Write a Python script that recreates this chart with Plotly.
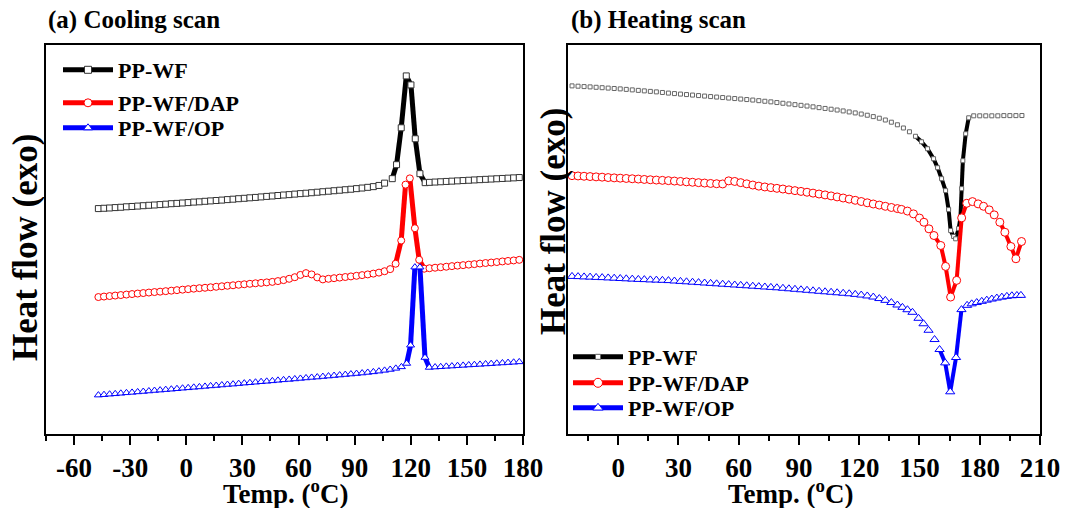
import plotly.graph_objects as go

# ---------------- (a) Cooling scan ----------------
cool_wf_T = [-47, -44, -41, -38, -35, -32, -29, -26, -23, -20, -17, -14, -11, -8, -5, -2, 1, 4, 7, 10,
             13, 16, 19, 22, 25, 28, 31, 34, 37, 40, 43, 46, 49, 52, 55, 58, 61, 64, 67, 70,
             73, 76, 79, 82, 85, 88, 91, 94, 97, 100, 103, 106,
             110.1, 112.4, 114.9, 117.6, 120.1, 122.4, 124.9, 127.7,
             130, 133, 136, 139, 142, 145, 148, 151, 154, 157, 160, 163, 166, 169, 172, 175, 178]
cool_wf_H = [225, 225.3, 225.6, 226, 226.3, 226.8, 227.1, 227.5, 227.9, 228.3, 228.6, 229, 229.4, 229.9, 230.2, 230.6, 231, 231.5, 231.8, 232.3,
             232.7, 233.1, 233.5, 234, 234.4, 234.9, 235.3, 235.8, 236.2, 236.7, 237.2, 237.6, 238.1, 238.6, 239, 239.5, 240, 240.4, 240.9, 241.4,
             241.9, 242.4, 242.9, 243.4, 243.9, 244.4, 245, 245.6, 246.3, 247, 248.2, 250.5,
             255, 269, 306, 358, 349, 295, 260, 251,
             251.3, 251.6, 251.9, 252.2, 252.5, 252.8, 253.1, 253.4, 253.7, 254, 254.3, 254.6, 254.9, 255.2, 255.5, 255.8, 256.1]

cool_dap_T = [-47, -44, -41, -38, -35, -32, -29, -26, -23, -20, -17, -14, -11, -8, -5, -2, 1, 4, 7, 10,
              13, 16, 19, 22, 25, 28, 31, 34, 37, 40, 43, 46, 49, 52, 55, 58, 61, 64, 67, 70,
              73, 76, 79, 82, 85, 88, 91, 94, 97, 100, 103, 106, 109,
              111.9, 114.9, 117.2, 119.5, 122.2, 124.5, 127.2,
              130, 133, 136, 139, 142, 145, 148, 151, 154, 157, 160, 163, 166, 169, 172, 175, 178]
cool_dap_H = [136.3, 136.8, 137.3, 137.8, 138.3, 138.8, 139.3, 139.8, 140.3, 140.8, 141.3, 141.7, 142.2, 142.7, 143.2, 143.7, 144.2, 144.7, 145.2, 145.6,
              146.1, 146.6, 147.1, 147.6, 148.1, 148.6, 149.1, 149.6, 150.1, 150.5, 151, 151.5, 152.3, 153.3, 154.6, 156.2, 158.5, 160.3, 159, 156,
              154, 154.6, 155.2, 155.8, 156.4, 157, 157.6, 158.3, 159, 159.8, 160.8, 162.2, 164.3,
              169.7, 193, 249, 255.3, 205.3, 173.7, 164.7,
              165.2, 165.7, 166.2, 166.7, 167.3, 167.8, 168.3, 168.8, 169.3, 169.9, 170.4, 170.9, 171.4, 172, 172.5, 173, 173.6]

cool_op_T = [-47, -44, -41, -38, -35, -32, -29, -26, -23, -20, -17, -14, -11, -8, -5, -2, 1, 4, 7, 10,
             13, 16, 19, 22, 25, 28, 31, 34, 37, 40, 43, 46, 49, 52, 55, 58, 61, 64, 67, 70,
             73, 76, 79, 82, 85, 88, 91, 94, 97, 100, 103, 106, 109, 112, 115,
             117.8, 119.9, 122.2, 124.9, 127.6, 129.9,
             133, 136, 139, 142, 145, 148, 151, 154, 157, 160, 163, 166, 169, 172, 175, 178]
cool_op_H = [38, 38.4, 38.9, 39.3, 39.8, 40.3, 40.7, 41.2, 41.6, 42.1, 42.6, 43, 43.5, 43.9, 44.4, 44.9, 45.3, 45.8, 46.2, 46.7,
             47.2, 47.6, 48.1, 48.6, 49, 49.5, 50, 50.4, 50.9, 51.4, 51.8, 52.3, 52.8, 53.3, 53.7, 54.2, 54.7, 55.2, 55.7, 56.1,
             56.6, 57.1, 57.6, 58.1, 58.6, 59.1, 59.6, 60.1, 60.7, 61.3, 62, 62.8, 63.7, 64.8, 66.3,
             69.7, 88, 166.3, 166.3, 75.7, 65.7,
             66.1, 66.4, 66.8, 67.1, 67.5, 67.8, 68.2, 68.5, 68.8, 69.2, 69.5, 69.9, 70.2, 70.6, 70.9, 71.3]

# ---------------- (b) Heating scan ----------------
heat_wf_T = [-23, -20, -17, -14, -11, -8, -5, -2, 1, 4, 7, 10, 13, 16, 19, 22, 25, 28, 31, 34,
             37, 40, 43, 46, 49, 52, 55, 58, 61, 64, 67, 70, 73, 76, 79, 82, 85, 88, 91, 94,
             97, 100, 103, 106, 109, 112, 115, 118, 121, 124, 127, 130, 133, 136, 139, 142, 145, 148, 151, 154,
             157, 159, 161, 163, 164.5, 165.5, 167, 168, 169.5, 170.4, 171, 171.6, 173, 174.5,
             177, 180, 183, 186, 189, 192, 195, 198, 201]
heat_wf_H = [348, 347.7, 347.3, 347, 346.6, 346.2, 345.8, 345.4, 345, 344.5, 344, 343.5, 343, 342.5, 342, 341.4, 340.8, 340.3, 339.8, 339.3,
             338.8, 338.3, 337.8, 337.3, 336.8, 336.3, 335.8, 335.3, 334.8, 334.3, 333.8, 333.2, 332.6, 332, 331.3, 330.6, 329.9, 329.2, 328.5, 327.8,
             327, 326.2, 325.4, 324.6, 323.8, 322.9, 321.9, 320.9, 319.8, 318.6, 317.2, 315.6, 313.8, 311.6, 309, 305.8, 302, 297.5, 292, 285,
             275, 266, 255, 243, 224, 203, 197, 194.7, 205, 216, 245, 273, 300, 316,
             318, 318, 318, 318, 318, 318.2, 318.2, 318.2, 318.3]

heat_dap_T = [-23, -20, -17, -14, -11, -8, -5, -2, 1, 4, 7, 10, 13, 16, 19, 22, 25, 28, 31, 34,
              37, 40, 43, 46, 49, 52, 55, 58, 61, 64, 67, 70, 73, 76, 79, 82, 85, 88, 91, 94,
              97, 100, 103, 106, 109, 112, 115, 118, 121, 124, 127, 130, 133, 136, 139, 141, 144, 147, 150,
              152.2, 154.7, 157.2, 160.6, 163, 165.5, 168.5, 171, 173.5, 176.4, 179.2, 181.9, 184.7, 187.2, 190,
              192.5, 195.5, 198, 200.8]
heat_dap_H = [258, 257.7, 257.4, 257.1, 256.8, 256.5, 256.1, 255.8, 255.5, 255.2, 254.9, 254.6, 254.2, 253.9, 253.6, 253.3, 253, 252.6, 252.2, 251.8,
              251.4, 251, 250.6, 250.2, 249.9, 249.7, 252.8, 252.2, 251, 249.8, 248.6, 247.5, 246.7, 246, 245.3, 244.6, 243.8, 243, 242.2, 241.4,
              240.5, 239.6, 238.7, 237.7, 236.7, 235.6, 234.5, 233.3, 232.1, 230.8, 229.6, 228.5, 227.3, 226.1, 225, 224.2, 222.5, 219.7, 215.5,
              211.3, 204.7, 198, 188, 167, 136.3, 153, 215.7, 230.3, 232, 229.7, 227.3, 223.7, 218.7, 211.3,
              201.3, 187, 174.7, 192]

heat_op_T = [-23, -20, -17, -14, -11, -8, -5, -2, 1, 4, 7, 10, 13, 16, 19, 22, 25, 28, 31, 34,
             37, 40, 43, 46, 49, 52, 55, 58, 61, 64, 67, 70, 73, 76, 79, 82, 85, 88, 91, 94,
             97, 100, 103, 106, 109, 112, 115, 118, 121, 124, 127, 130, 133, 136, 139, 141.5, 144, 146.5, 149.5, 152,
             154.5, 157.5, 160, 162.8, 165.3, 168.2, 170.9, 173.7, 176, 178.5, 181, 183.5, 186, 188.5, 191,
             193.5, 196, 198.5, 200.5]
heat_op_H = [157, 156.8, 156.5, 156.3, 156, 155.8, 155.5, 155.2, 154.9, 154.6, 154.3, 154, 153.8, 153.5, 153.3, 153.1, 152.8, 152.4, 152, 151.6,
             151.2, 150.8, 150.4, 150, 149.6, 149.2, 148.8, 148.4, 148, 147.6, 147.2, 146.8, 146.4, 146, 145.6, 145.1, 144.6, 144.1, 143.6, 143.1,
             142.6, 142.1, 141.6, 141.1, 140.6, 140.1, 139.6, 139, 138.3, 137.4, 136.3, 134.8, 133, 130.8, 128.3, 126, 123.6, 121, 115, 109.5,
             103, 93.7, 83.7, 70.3, 41.3, 75.7, 123.7, 128, 129.5, 130.8, 132, 133.2, 134.3, 135.3, 136.2,
             137, 137.6, 137.9, 138]

names = ["PP-WF", "PP-WF/DAP", "PP-WF/OP"]

cool_ticks = [-60, -30, 0, 30, 60, 90, 120, 150, 180]
heat_ticks = [0, 30, 60, 90, 120, 150, 180, 210]

FONT = "Liberation Serif"


def segments(xs, ys, thr):
    sx, sy = [], []
    for i in range(len(xs) - 1):
        if abs(ys[i + 1] - ys[i]) > thr:
            sx += [xs[i], xs[i + 1], None]
            sy += [ys[i], ys[i + 1], None]
    return sx, sy


fig = go.Figure()

series = [
    # panel, T, H, name, color, outline, symbol, msize, lwidth, thr, legend
    ("1", cool_wf_T, cool_wf_H, names[0], "black", "#333333", "square", 6, 5, 8, "legend"),
    ("1", cool_dap_T, cool_dap_H, names[1], "red", "red", "circle", 7, 5, 8, "legend2"),
    ("1", cool_op_T, cool_op_H, names[2], "blue", "blue", "triangle-up", 7, 5, 8, "legend3"),
    ("2", heat_wf_T, heat_wf_H, names[0], "black", "#666666", "square", 4, 4, 5, "legend4"),
    ("2", heat_dap_T, heat_dap_H, names[1], "red", "red", "circle", 8, 4, 8, "legend5"),
    ("2", heat_op_T, heat_op_H, names[2], "blue", "blue", "triangle-up", 8, 4, 10, "legend6"),
]

for panel, T, H, name, col, ocol, sym, ms, lw, thr, lg in series:
    xa = "x" if panel == "1" else "x2"
    ya = "y" if panel == "1" else "y2"
    sx, sy = segments(T, H, thr)
    fig.add_trace(go.Scatter(x=sx, y=sy, mode="lines", line=dict(color=col, width=lw),
                             xaxis=xa, yaxis=ya, showlegend=False, hoverinfo="skip"))
    fig.add_trace(go.Scatter(x=T, y=H, mode="markers", name=name,
                             marker=dict(symbol=sym, size=ms, color="white",
                                         line=dict(color=ocol, width=1)),
                             xaxis=xa, yaxis=ya, showlegend=False))
    # legend entry
    fig.add_trace(go.Scatter(x=[None], y=[None], mode="lines+markers", name=name,
                             line=dict(color=col, width=5),
                             marker=dict(symbol=sym, size=ms + 1, color="white",
                                         line=dict(color=ocol, width=1)),
                             xaxis=xa, yaxis=ya, showlegend=True, legend=lg))

W, Hh = 1069, 508
ydom = [1 - 434 / Hh, 1 - 45 / Hh]

axis_common = dict(showline=True, mirror=True, linecolor="black", linewidth=2,
                   showgrid=False, zeroline=False, automargin=False)
tickfont = dict(family=FONT, size=27, color="black", weight="bold")


def fmt(v):
    return ("-" + str(-v)) if v < 0 else str(v)


fig.update_layout(
    width=W, height=Hh,
    margin=dict(l=0, r=0, t=0, b=0, autoexpand=False),
    paper_bgcolor="white", plot_bgcolor="white",
    xaxis=dict(domain=[46 / W, 523 / W], range=[-75, 180],
               tickvals=cool_ticks, ticktext=[fmt(v) for v in cool_ticks],
               ticks="outside", ticklen=9, tickwidth=2, tickcolor="black",
               minor=dict(dtick=15, tick0=0, ticks="outside", ticklen=5, tickwidth=2, tickcolor="black"),
               tickfont=tickfont, anchor="y", **axis_common),
    yaxis=dict(domain=ydom, range=[-1, 389], showticklabels=False, ticks="",
               anchor="x", **axis_common),
    xaxis2=dict(domain=[568 / W, 1040 / W], range=[-25, 210],
                tickvals=heat_ticks, ticktext=[fmt(v) for v in heat_ticks],
                ticks="outside", ticklen=9, tickwidth=2, tickcolor="black",
                minor=dict(dtick=15, tick0=0, ticks="outside", ticklen=5, tickwidth=2, tickcolor="black"),
                tickfont=tickfont, anchor="y2", **axis_common),
    yaxis2=dict(domain=ydom, range=[-1, 389], showticklabels=False, ticks="",
                anchor="x2", **axis_common),
    showlegend=True,
)

leg_font = dict(family=FONT, size=22, color="black", weight="bold")
leg_pos = {
    "legend": (58, 70), "legend2": (58, 103), "legend3": (58, 128),
    "legend4": (568, 357), "legend5": (568, 383), "legend6": (568, 408),
}
for key, (px, py) in leg_pos.items():
    fig.update_layout({key: dict(x=px / W, y=1 - py / Hh, xanchor="left", yanchor="middle",
                                 xref="paper", yref="paper",
                                 bgcolor="rgba(0,0,0,0)", borderwidth=0,
                                 itemwidth=50, font=leg_font)})

ann_font = dict(family=FONT, size=25, color="black", weight="bold")
xt_font = dict(family=FONT, size=27, color="black", weight="bold")
yt_font = dict(family=FONT, size=35, color="black", weight="bold")
anns = [
    dict(text="(a) Cooling scan", x=46 / W, y=1 - 20 / Hh, xanchor="left", yanchor="middle", font=ann_font),
    dict(text="(b) Heating scan", x=569 / W, y=1 - 20 / Hh, xanchor="left", yanchor="middle", font=ann_font),
    dict(text="Temp. (<sup>o</sup>C)", x=285 / W, y=1 - 492 / Hh, xanchor="center", yanchor="middle", font=xt_font),
    dict(text="Temp. (<sup>o</sup>C)", x=790 / W, y=1 - 492 / Hh, xanchor="center", yanchor="middle", font=xt_font),
    dict(text="Heat flow (exo)", x=25 / W, y=1 - 248 / Hh, textangle=-90, xanchor="center", yanchor="middle", font=yt_font),
    dict(text="Heat flow (exo)", x=553 / W, y=1 - 222 / Hh, textangle=-90, xanchor="center", yanchor="middle", font=yt_font),
]
for a in anns:
    a.update(xref="paper", yref="paper", showarrow=False)
fig.update_layout(annotations=anns)

fig.write_html("out.html")
